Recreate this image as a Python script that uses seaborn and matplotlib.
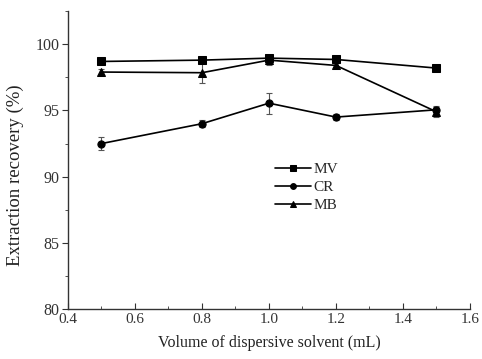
import matplotlib
matplotlib.use("Agg")
import matplotlib.pyplot as plt
from matplotlib.ticker import MultipleLocator
import seaborn as sns
import pandas as pd

volume = [0.5, 0.8, 1.0, 1.2, 1.5]
mv = [98.7, 98.8, 98.95, 98.85, 98.2]
cr = [92.5, 94.0, 95.55, 94.5, 95.05]
mb = [97.9, 97.85, 98.8, 98.4, 94.9]
mv_err = [0.1, 0.1, 0.15, 0.1, 0.1]
cr_err = [0.5, 0.25, 0.8, 0.2, 0.2]
mb_err = [0.2, 0.8, 0.35, 0.15, 0.4]
series = ["MV", "CR", "MB"]

df = pd.DataFrame({
    "x": volume * 3,
    "y": mv + cr + mb,
    "err": mv_err + cr_err + mb_err,
    "series": [s for s in series for _ in volume],
})

sns.set_style("ticks")
plt.rcParams["font.family"] = ["Liberation Serif", "DejaVu Serif"]

fig = plt.figure(figsize=(4.82, 3.59), dpi=100)
ax = fig.add_axes([0.141, 0.139, 0.834, 0.83])

markers = {"MV": "s", "CR": "o", "MB": "^"}
for s in series:
    d = df[df.series == s]
    ax.errorbar(d.x, d.y, yerr=d.err, fmt="none", ecolor="#555555",
                elinewidth=0.8, capsize=2.5, capthick=0.8, zorder=2)

sns.lineplot(data=df, x="x", y="y", hue="series", style="series",
             palette={"MV": "black", "CR": "black", "MB": "black"},
             markers=markers, dashes=False, markersize=5.2, linewidth=1.2,
             markeredgecolor="black", ax=ax, zorder=3)

ax.set_xlim(0.4, 1.6)
ax.set_ylim(80, 102.5)
ax.xaxis.set_major_locator(MultipleLocator(0.2))
ax.xaxis.set_minor_locator(MultipleLocator(0.1))
ax.yaxis.set_major_locator(MultipleLocator(5))
ax.yaxis.set_minor_locator(MultipleLocator(2.5))
ax.xaxis.set_major_formatter(matplotlib.ticker.FormatStrFormatter("%.1f"))
ax.tick_params(axis="x", which="both", direction="in", labelsize=11, colors="#333333", pad=3)
ax.tick_params(axis="y", which="both", direction="out", labelsize=11.5, colors="#333333", pad=2)
ax.tick_params(which="major", length=4)
ax.tick_params(which="minor", length=2.5)
for sp in ["top", "right"]:
    ax.spines[sp].set_visible(False)
for sp in ["left", "bottom"]:
    ax.spines[sp].set_color("#333333")
    ax.spines[sp].set_linewidth(1.0)

ax.set_xlabel("Volume of dispersive solvent (mL)", fontsize=11.5, color="#222222", labelpad=6)
ax.set_ylabel("Extraction recovery (%)", fontsize=13.5, color="#222222")
ax.yaxis.set_label_coords(-0.11, 0.45)

leg = ax.legend(title=None, frameon=False, loc="upper left",
                bbox_to_anchor=(0.48, 0.538), fontsize=11, handlelength=2.4,
                handletextpad=0.15, labelspacing=0.28, markerscale=0.8)

fig.savefig("out.png", dpi=100)
